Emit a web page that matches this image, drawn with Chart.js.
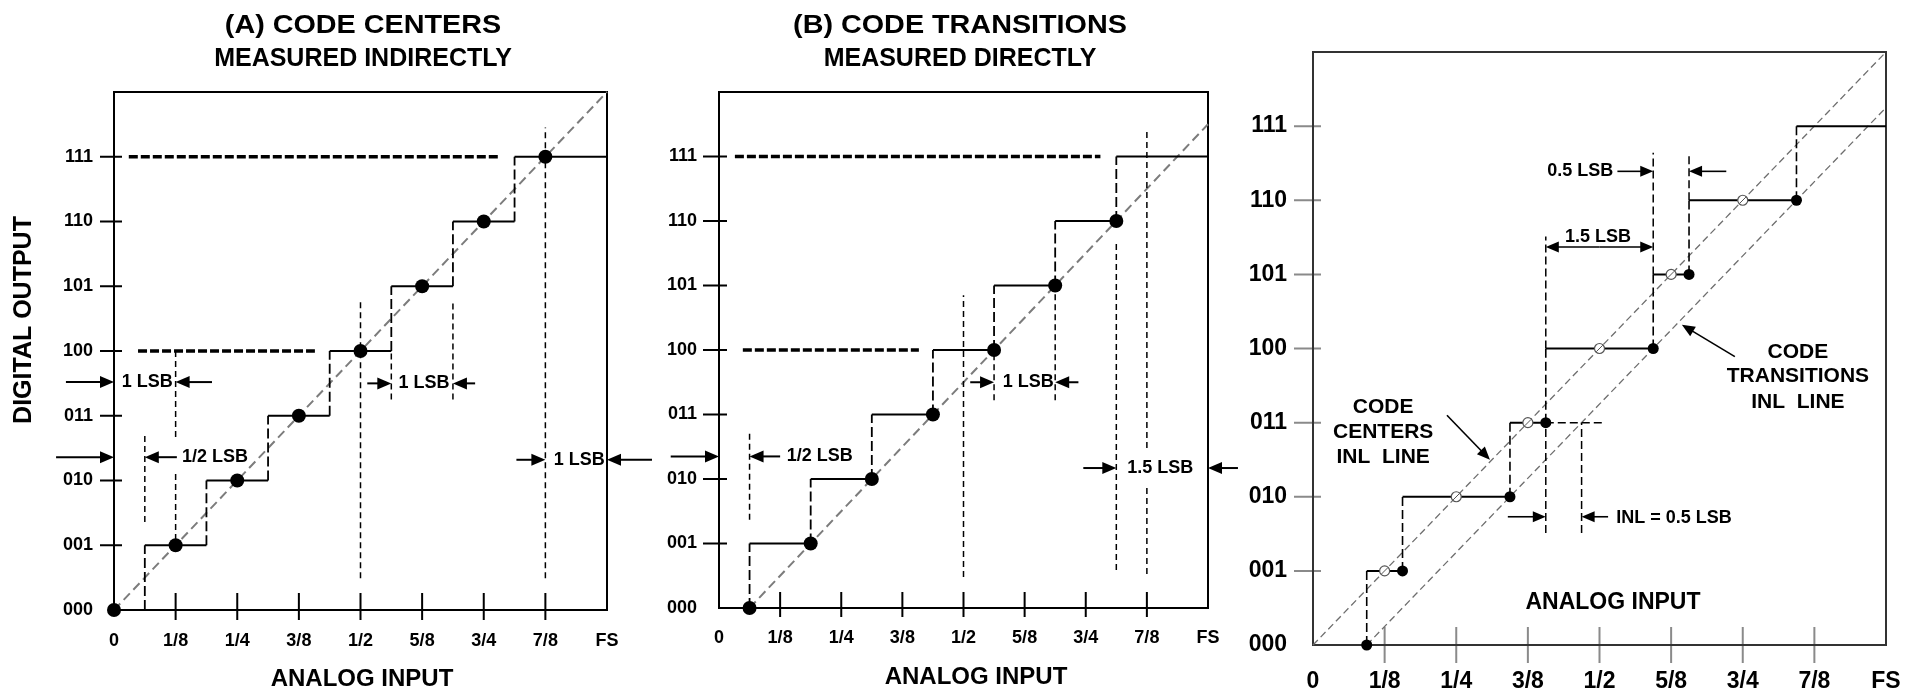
<!DOCTYPE html>
<html>
<head>
<meta charset="utf-8">
<script src="https://cdn.jsdelivr.net/npm/chart.js@4.4.0/dist/chart.umd.min.js"></script>
<style>
  html, body { margin: 0; padding: 0; background: #fff; overflow: hidden; }
  #wrap { position: relative; width: 1912px; height: 691px; overflow: hidden; }
  #wrap canvas { position: absolute; left: 0; top: 0; }
</style>
</head>
<body>
<div id="wrap">
  <canvas id="chartA" width="1912" height="691"></canvas>
  <canvas id="chartB" width="1912" height="691"></canvas>
  <canvas id="chartC" width="1912" height="691"></canvas>
</div>
<script>
// tick labels (x in 1/8 of full scale, y = output code)
const inputLabels = ['0', '1/8', '1/4', '3/8', '1/2', '5/8', '3/4', '7/8', 'FS'];
const codeLabels = ['000', '001', '010', '011', '100', '101', '110', '111'];

// (A) / (B): same 3-bit transfer function, code edges on the x axis
const edgesAB = [0, 0.5, 1.5, 2.5, 3.5, 4.5, 5.5, 6.5, 8];
// (A) measured code centers
const centersAx = [0, 1, 2, 3, 4, 5, 6, 7];
const centersAy = [0, 1, 2, 3, 4, 5, 6, 7];
const inlLineA = [0, 0, 8, 8];
// (B) measured code transitions
const transBx = [0.5, 1.5, 2.5, 3.5, 4.5, 5.5, 6.5];
const transBy = [0, 1, 2, 3, 4, 5, 6];
const inlLineB = [0.5, 0, 8, 7.5];

// (C) non-ideal converter
const edgesC = [0, 0.75, 1.25, 2.75, 3.25, 4.75, 5.25, 6.75, 8];
const transCx = [0.75, 1.25, 2.75, 3.25, 4.75, 5.25, 6.75];
const transCy = [0, 1, 2, 3, 4, 5, 6];
const centersCx = [1, 2, 3, 4, 5, 6];
const centersCy = [1, 2, 3, 4, 5, 6];
const centersLineC = [0, 0, 8, 8];
const transLineC = [0.75, 0, 8, 7.25];

// guide lines [x1, y1, x2, y2]
const guidesA = [[0.5, 1.36, 0.5, 2.74], [1, 2.67, 1, 4.04], [1, 1.08, 1, 2.16], [4, 0.49, 4, 4.79],
  [4.5, 3.25, 4.5, 4], [5.5, 3.25, 5.5, 4.76], [7, 0.49, 7, 7.45]];
const refLinesA = [[0.24, 7, 6.25, 7], [0.39, 4, 3.26, 4]];
const guidesB = [[0.5, 1.37, 0.5, 2.76], [4, 0.48, 4, 4.85], [4.5, 3.22, 4.5, 4], [5.5, 3.22, 5.5, 5],
  [6.5, 0.59, 6.5, 5.7], [7, 1.86, 7, 0.48], [7, 2.48, 7, 7.43]];
const refLinesB = [[0.26, 7, 6.24, 7], [0.39, 4, 3.27, 4]];
const guidesC = [[4.75, 5, 4.75, 6.64], [5.25, 6, 5.25, 6.64], [3.25, 4, 3.25, 5.51], [3.25, 1.51, 3.25, 3],
  [3.75, 1.51, 3.75, 3], [3.25, 3, 4.07, 3]];

// arrows [fromX, fromY, tipX, tipY]
const arrowsA = [[-0.78, 3.52, 0, 3.52], [1.59, 3.52, 1, 3.52], [-0.94, 2.36, 0, 2.36], [1.02, 2.36, 0.5, 2.36],
  [4.11, 3.5, 4.5, 3.5], [5.86, 3.5, 5.5, 3.5], [6.53, 2.32, 7, 2.32], [8.73, 2.32, 8, 2.32]];
const arrowsB = [[-0.79, 2.35, 0, 2.35], [1.0, 2.35, 0.5, 2.35], [4.11, 3.5, 4.5, 3.5], [5.88, 3.5, 5.5, 3.5],
  [5.96, 2.17, 6.5, 2.17], [8.49, 2.17, 8, 2.17]];
const arrowsC = [[4.25, 6.39, 4.75, 6.39], [5.77, 6.39, 5.25, 6.39], [4, 5.37, 3.25, 5.37], [4, 5.37, 4.75, 5.37],
  [2.72, 1.73, 3.25, 1.73], [4.12, 1.73, 3.75, 1.73], [1.87, 3.10, 2.47, 2.50], [5.89, 3.89, 5.15, 4.32]];

// notes [text, x, y]
const notesA = [['1 LSB', 0.54, 3.52], ['1/2 LSB', 1.64, 2.36], ['1 LSB', 5.03, 3.5], ['1 LSB', 7.55, 2.32]];
const notesB = [['1/2 LSB', 1.65, 2.35], ['1 LSB', 5.06, 3.5], ['1.5 LSB', 7.22, 2.17]];
const notesC = [['0.5 LSB', 3.73, 6.39], ['1.5 LSB', 3.98, 5.51], ['INL = 0.5 LSB', 5.04, 1.71]];
const captionsC = [['CODE', 0.98, 3.21], ['CENTERS', 0.98, 2.87], ['INL  LINE', 0.98, 2.54],
  ['CODE', 6.77, 3.95], ['TRANSITIONS', 6.77, 3.62], ['INL  LINE', 6.77, 3.28]];

const FONT = "'Liberation Sans', Arial, Helvetica, sans-serif";
const bold = size => `bold ${size}px ${FONT}`;

function lineSet(p, style) {
  return Object.assign({
    data: [{ x: p[0], y: p[1] }, { x: p[2], y: p[3] }],
    showLine: true, pointRadius: 0, clip: false, fill: false
  }, style);
}
function pointSet(xs, ys, style) {
  return Object.assign({ data: xs.map((v, i) => ({ x: v, y: ys[i] })), showLine: false, clip: false }, style);
}
// horizontal treads for codes 001..111
function treads(edges) {
  return codeLabels.slice(1).map((_, i) => [edges[i + 1], i + 1, edges[i + 2], i + 1]);
}
// vertical risers between codes
function risers(edges) {
  return codeLabels.slice(1).map((_, i) => [edges[i + 1], i, edges[i + 1], i + 1]);
}

function diagram(d) {
  const P = (sc, v) => sc.getPixelForValue(v);
  return {
    id: 'diagram',
    beforeDatasetsDraw(chart) {
      const { ctx, chartArea: a, scales: { x, y } } = chart;
      ctx.save();
      ctx.strokeStyle = d.tickColor;
      ctx.lineWidth = 2;
      ctx.beginPath();
      for (let i = 1; i < inputLabels.length - 1; i++) {
        const px = P(x, i);
        ctx.moveTo(px, a.bottom - d.xTick[0]);
        ctx.lineTo(px, a.bottom + d.xTick[1]);
      }
      for (let i = 1; i < codeLabels.length; i++) {
        const py = P(y, i);
        ctx.moveTo(a.left - d.yTick[1], py);
        ctx.lineTo(a.left + d.yTick[0], py);
      }
      ctx.stroke();
      ctx.strokeStyle = d.frameColor;
      ctx.lineWidth = 2;
      ctx.strokeRect(a.left, a.top, a.right - a.left, a.bottom - a.top);
      ctx.restore();
    },
    afterDatasetsDraw(chart) {
      const { ctx, scales: { x, y } } = chart;
      ctx.save();
      ctx.fillStyle = '#000';
      ctx.strokeStyle = '#000';
      d.arrows.forEach(([x1, y1, x2, y2]) => {
        const ax = P(x, x1), ay = P(y, y1), bx = P(x, x2), by = P(y, y2);
        const ang = Math.atan2(by - ay, bx - ax);
        const hl = d.head[0], hw = d.head[1];
        ctx.lineWidth = d.arrowWidth;
        ctx.beginPath();
        ctx.moveTo(ax, ay);
        ctx.lineTo(bx - Math.cos(ang) * hl * 0.8, by - Math.sin(ang) * hl * 0.8);
        ctx.stroke();
        ctx.beginPath();
        ctx.moveTo(bx, by);
        ctx.lineTo(bx - Math.cos(ang) * hl - Math.sin(ang) * hw, by - Math.sin(ang) * hl + Math.cos(ang) * hw);
        ctx.lineTo(bx - Math.cos(ang) * hl + Math.sin(ang) * hw, by - Math.sin(ang) * hl - Math.cos(ang) * hw);
        ctx.closePath();
        ctx.fill();
      });
      ctx.textAlign = 'center';
      ctx.textBaseline = 'middle';
      d.notes.forEach(g => {
        ctx.font = g.font;
        g.items.forEach(([t, tx, ty]) => ctx.fillText(t, P(x, tx), P(y, ty)));
      });
      d.labels.forEach(l => {
        ctx.save();
        ctx.font = l.font;
        ctx.translate(l.x, l.y);
        if (l.rot) ctx.rotate(l.rot * Math.PI / 180);
        ctx.scale(l.sx || 1, 1);
        ctx.fillText(l.text, 0, 0);
        ctx.restore();
      });
      ctx.restore();
    }
  };
}

function makeChart(id, area, layers, d) {
  // axis boxes sized so their labels are never clipped
  const yW = 100, xH = 691 - area.b;
  const fixX = s => { s.height = xH; s.paddingLeft = 0; s.paddingRight = 0; s.paddingTop = 0; s.paddingBottom = 0; };
  const fixY = s => { s.width = yW; s.paddingLeft = 0; s.paddingRight = 0; s.paddingTop = 0; s.paddingBottom = 0; };
  // chart.js paints the first dataset last, so list the layers top-most first
  const datasets = layers.slice().reverse();
  return new Chart(document.getElementById(id), {
    type: 'scatter',
    data: { datasets },
    options: {
      responsive: false,
      animation: false,
      events: [],
      layout: { padding: { left: area.l - yW, right: 1912 - area.r, top: area.t, bottom: 0 } },
      plugins: { legend: { display: false }, tooltip: { enabled: false } },
      scales: {
        x: {
          type: 'linear', min: 0, max: 8,
          grid: { display: false, drawTicks: false }, border: { display: false },
          afterFit: fixX,
          afterBuildTicks: s => { s.ticks = inputLabels.map((_, i) => ({ value: i })); },
          ticks: { autoSkip: false, maxRotation: 0, padding: d.xPad, color: '#000',
                   font: { family: FONT, size: d.tickSize, weight: 'bold' }, callback: v => inputLabels[v] }
        },
        y: {
          type: 'linear', min: 0, max: 8,
          grid: { display: false, drawTicks: false }, border: { display: false },
          afterFit: fixY,
          afterBuildTicks: s => { s.ticks = codeLabels.map((_, i) => ({ value: i })); },
          ticks: { autoSkip: false, padding: d.yPad, color: '#000',
                   font: { family: FONT, size: d.tickSize, weight: 'bold' }, callback: v => codeLabels[v] }
        }
      }
    },
    plugins: [diagram(d)]
  });
}

const sDiag = { borderColor: '#7c7c7c', borderWidth: 2, borderDash: [9, 5] };
const sTread = { borderColor: '#000', borderWidth: 2 };
const sRiser = { borderColor: '#000', borderWidth: 1.8, borderDash: [10, 4] };
const sGuide = { borderColor: '#000', borderWidth: 1.5, borderDash: [6, 4] };
const sRef = { borderColor: '#000', borderWidth: 3.5, borderDash: [9, 3] };
const sDot = { pointRadius: 7, backgroundColor: '#000', borderColor: '#000', borderWidth: 0 };

// (A)
makeChart('chartA', { l: 114, r: 607, t: 92, b: 610 }, [
  lineSet(inlLineA, sDiag),
  ...treads(edgesAB).map(p => lineSet(p, sTread)),
  ...risers(edgesAB).map(p => lineSet(p, sRiser)),
  ...guidesA.map(p => lineSet(p, sGuide)),
  ...refLinesA.map(p => lineSet(p, sRef)),
  pointSet(centersAx, centersAy, sDot)
], {
  tickColor: '#000', frameColor: '#000', xTick: [17, 10], yTick: [8, 14],
  tickSize: 18, xPad: 20, yPad: 21, arrowWidth: 2, head: [14, 6],
  arrows: arrowsA, notes: [{ font: bold(18), items: notesA }],
  labels: [
    { text: '(A) CODE CENTERS', x: 363, y: 26, font: bold(25), sx: 1.15 },
    { text: 'MEASURED INDIRECTLY', x: 363, y: 59, font: bold(25) },
    { text: 'ANALOG INPUT', x: 362, y: 679, font: bold(24) },
    { text: 'DIGITAL OUTPUT', x: 24, y: 320, font: bold(25), rot: -90 }
  ]
});

// (B)
makeChart('chartB', { l: 719, r: 1208, t: 92, b: 608 }, [
  lineSet(inlLineB, sDiag),
  ...treads(edgesAB).map(p => lineSet(p, sTread)),
  ...risers(edgesAB).map(p => lineSet(p, sRiser)),
  ...guidesB.map(p => lineSet(p, sGuide)),
  ...refLinesB.map(p => lineSet(p, sRef)),
  pointSet(transBx, transBy, sDot)
], {
  tickColor: '#000', frameColor: '#000', xTick: [16, 9], yTick: [8, 16],
  tickSize: 18, xPad: 19, yPad: 22, arrowWidth: 2, head: [14, 6],
  arrows: arrowsB, notes: [{ font: bold(18), items: notesB }],
  labels: [
    { text: '(B) CODE TRANSITIONS', x: 960, y: 26, font: bold(25), sx: 1.15 },
    { text: 'MEASURED DIRECTLY', x: 960, y: 59, font: bold(25) },
    { text: 'ANALOG INPUT', x: 976, y: 677, font: bold(24) }
  ]
});

// (C)
const sDiagC = { borderColor: '#6e6e6e', borderWidth: 1.3, borderDash: [7, 4] };
makeChart('chartC', { l: 1313, r: 1886, t: 52, b: 645 }, [
  lineSet(centersLineC, sDiagC),
  lineSet(transLineC, sDiagC),
  ...treads(edgesC).map(p => lineSet(p, sTread)),
  ...risers(edgesC).map(p => lineSet(p, { borderColor: '#000', borderWidth: 1.6, borderDash: [9, 4] })),
  ...guidesC.map(p => lineSet(p, { borderColor: '#000', borderWidth: 1.5, borderDash: [8, 4] })),
  pointSet(centersCx, centersCy, { pointRadius: 5, backgroundColor: '#fff', borderColor: '#555', borderWidth: 1.2 }),
  pointSet(centersCx, centersCy, { pointStyle: 'line', rotation: -45, pointRadius: 4.5, borderColor: '#555', borderWidth: 1 }),
  pointSet(transCx, transCy, { pointRadius: 5.5, backgroundColor: '#000', borderColor: '#000', borderWidth: 0 })
], {
  tickColor: '#8a8a8a', frameColor: '#333', xTick: [18, 18], yTick: [8, 19],
  tickSize: 23, xPad: 23, yPad: 26, arrowWidth: 1.6, head: [13, 5.5],
  arrows: arrowsC,
  notes: [{ font: bold(18), items: notesC }, { font: bold(21), items: captionsC }],
  labels: [
    { text: 'ANALOG INPUT', x: 1613, y: 603, font: bold(23) }
  ]
});
</script>
</body>
</html>
